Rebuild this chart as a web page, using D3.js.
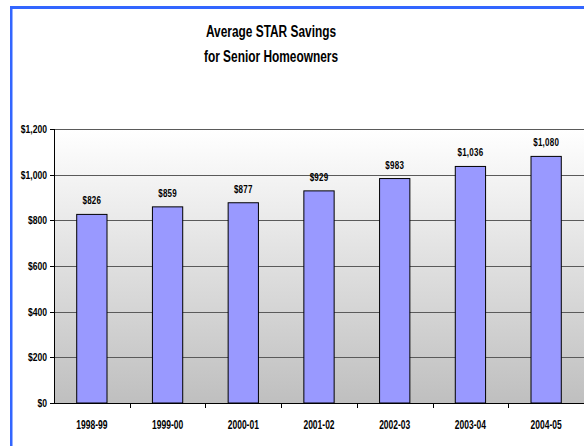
<!DOCTYPE html>
<html>
<head>
<meta charset="utf-8">
<script src="https://cdn.jsdelivr.net/npm/d3@7"></script>
<style>
  html, body { margin: 0; padding: 0; background: #fff; }
  svg { display: block; }
  text { font-family: "Liberation Sans", Arial, sans-serif; font-weight: bold; fill: #000; }
</style>
</head>
<body>
<svg id="chart" width="584" height="446"></svg>
<script>
// Fiscal years and average STAR savings (dollars)
const years = ["1998-99", "1999-00", "2000-01", "2001-02", "2002-03", "2003-04", "2004-05"];
const savings = [826, 859, 877, 929, 983, 1036, 1080];
const yTicks = [0, 200, 400, 600, 800, 1000, 1200];
const titleLines = ["Average STAR Savings", "for Senior Homeowners"];

const svg = d3.select("#chart");
const W = 584, H = 446;
const plot = { left: 54, right: 584, top: 129, bottom: 403 };
const money = d3.format("$,");

// Condensed text: draws a label at (px, py) squeezed horizontally by sx
function narrow(sel, px, py, sx) {
  return sel.attr("x", 0).attr("y", 0)
    .attr("transform", (d, i) => `translate(${px(d, i)},${py(d, i)}) scale(${sx},1)`);
}

// Frame lines along the top and left
svg.append("rect").attr("x", 10).attr("y", 6).attr("width", W - 10).attr("height", 3).attr("fill", "#3366ff");
svg.append("rect").attr("x", 10).attr("y", 6).attr("width", 2.5).attr("height", H - 6).attr("fill", "#3366ff");

// Plot-area background gradient
const defs = svg.append("defs");
const grad = defs.append("linearGradient").attr("id", "bg").attr("x1", 0).attr("y1", 0).attr("x2", 0).attr("y2", 1);
grad.append("stop").attr("offset", "0%").attr("stop-color", "#ffffff");
grad.append("stop").attr("offset", "100%").attr("stop-color", "#bfbfbf");

const x = d3.scaleBand().domain(years).range([plot.left, plot.right]).paddingInner(0.6).paddingOuter(0.3);
const y = d3.scaleLinear().domain([0, 1200]).range([plot.bottom, plot.top]);

svg.append("rect")
  .attr("x", plot.left).attr("y", plot.top)
  .attr("width", plot.right - plot.left).attr("height", plot.bottom - plot.top)
  .attr("fill", "url(#bg)");

// Horizontal gridlines
svg.append("g").selectAll("line").data(yTicks.filter(d => d > 0)).join("line")
  .attr("x1", plot.left).attr("x2", plot.right)
  .attr("y1", d => Math.round(y(d)) + 0.5).attr("y2", d => Math.round(y(d)) + 0.5)
  .attr("stroke", "#5a5a5a").attr("stroke-width", 1);

// Bars
svg.append("g").selectAll("rect").data(savings).join("rect")
  .attr("x", (d, i) => x(years[i]))
  .attr("y", d => y(d))
  .attr("width", x.bandwidth())
  .attr("height", d => y(0) - y(d))
  .attr("fill", "#9999ff")
  .attr("stroke", "#000").attr("stroke-width", 1);

// Value labels
narrow(svg.append("g").selectAll("text").data(savings).join("text"),
    (d, i) => x(years[i]) + x.bandwidth() / 2, d => y(d) - 10, 0.8)
  .attr("text-anchor", "middle")
  .attr("font-size", 10)
  .attr("letter-spacing", 0.3)
  .text(d => money(d));

// Y axis line and ticks
const gy = svg.append("g");
gy.append("line").attr("x1", plot.left + 0.5).attr("x2", plot.left + 0.5)
  .attr("y1", plot.top).attr("y2", plot.bottom + 1).attr("stroke", "#000");
gy.selectAll("line.tk").data(yTicks).join("line").attr("class", "tk")
  .attr("x1", plot.left - 4).attr("x2", plot.left)
  .attr("y1", d => Math.round(y(d)) + 0.5).attr("y2", d => Math.round(y(d)) + 0.5)
  .attr("stroke", "#000");
narrow(gy.selectAll("text").data(yTicks).join("text"),
    d => plot.left - 7, d => y(d) + 4, 0.78)
  .attr("text-anchor", "end")
  .attr("font-size", 11)
  .text(d => money(d));

// X axis with tick marks at category boundaries
const gx = svg.append("g");
gx.append("line").attr("x1", plot.left).attr("x2", plot.right)
  .attr("y1", plot.bottom + 0.5).attr("y2", plot.bottom + 0.5).attr("stroke", "#000");
const bounds = d3.range(1, years.length).map(i => plot.left + i * (plot.right - plot.left) / years.length);
gx.selectAll("line.tk").data(bounds).join("line").attr("class", "tk")
  .attr("x1", d => Math.round(d) + 0.5).attr("x2", d => Math.round(d) + 0.5)
  .attr("y1", plot.bottom).attr("y2", plot.bottom + 5).attr("stroke", "#000");
narrow(gx.selectAll("text").data(years).join("text"),
    d => x(d) + x.bandwidth() / 2, d => 429, 0.68)
  .attr("text-anchor", "middle")
  .attr("font-size", 12.5)
  .text(d => d);

// Title
narrow(svg.append("g").selectAll("text").data(titleLines).join("text"),
    d => 271, (d, i) => 37 + i * 25, 0.7)
  .attr("text-anchor", "middle")
  .attr("font-size", 17)
  .text(d => d);
</script>
</body>
</html>
